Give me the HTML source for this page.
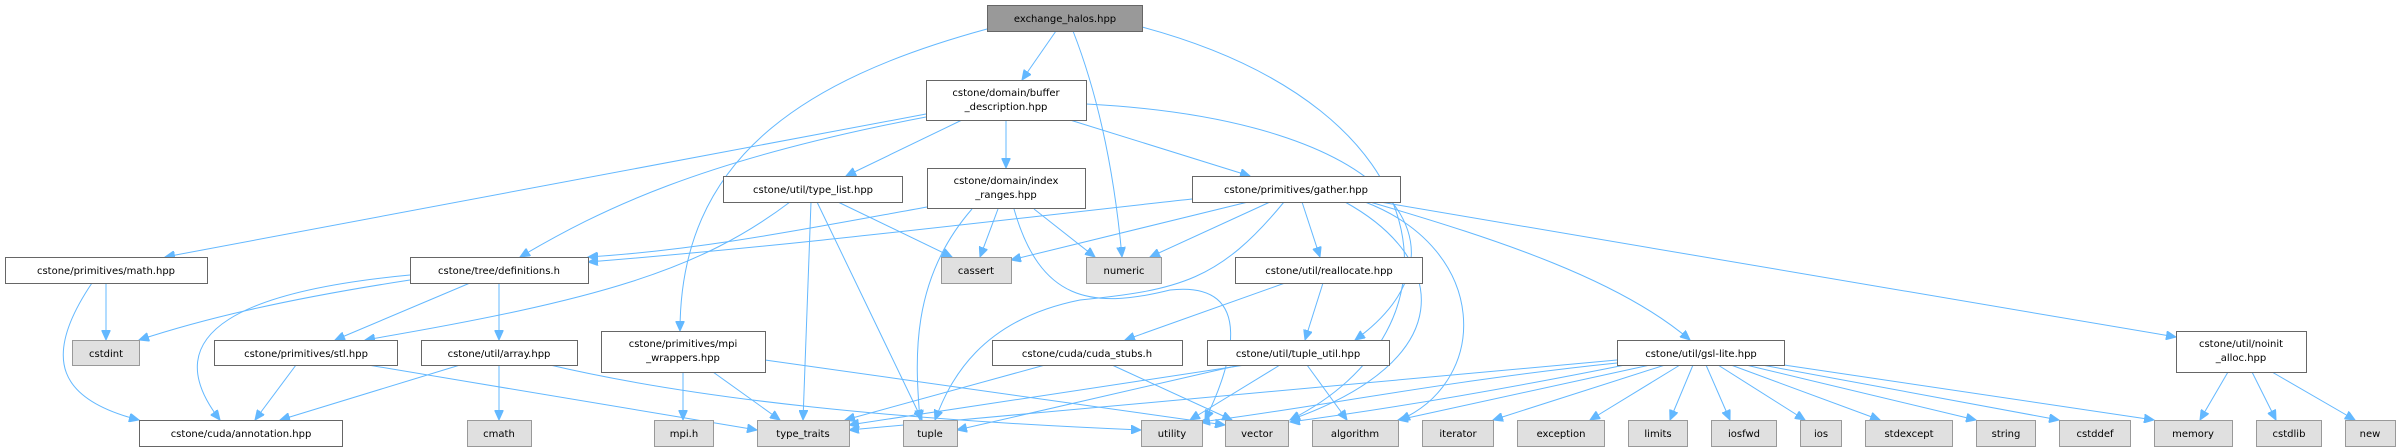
<!DOCTYPE html>
<html><head><meta charset="utf-8"><style>
html,body{margin:0;padding:0;background:#fff;}
svg{display:block;}
text{font-family:"DejaVu Sans","Liberation Sans",sans-serif;font-size:10px;fill:#000;text-anchor:middle;}
.n{fill:#fff;stroke:#666;stroke-width:1;}
.g{fill:#e0e0e0;stroke:#999;stroke-width:1;}
.m{fill:#999;stroke:#666;stroke-width:1;}
path{fill:none;stroke:#63b8ff;stroke-width:1;}
</style></head><body>
<svg width="2401" height="447" viewBox="0 0 2401 447" xmlns="http://www.w3.org/2000/svg">
<defs><marker id="a" markerUnits="userSpaceOnUse" markerWidth="11" markerHeight="9" refX="10" refY="4.5" orient="auto"><polygon points="0,0 10,4.5 0,9" fill="#63b8ff" stroke="#63b8ff"/></marker></defs>
<g marker-end="url(#a)">
<path d="M1056,31 L1022,80"/>
<path d="M1073,31 C1100,100 1115,180 1122,257"/>
<path d="M987,29 C800,80 680,160 680,331"/>
<path d="M1142,27 C1450,110 1470,330 1290,420"/>
<path d="M926,114 L165,257"/>
<path d="M926,117 C700,160 600,210 520,257"/>
<path d="M962,120 L846,176"/>
<path d="M1006,120 L1006,168"/>
<path d="M1070,120 L1250,176"/>
<path d="M1086,104 C1400,120 1480,250 1355,340"/>
<path d="M790,202 C700,270 600,300 365,340"/>
<path d="M838,202 L952,257"/>
<path d="M817,202 L922,420"/>
<path d="M811,202 L803,420"/>
<path d="M927,207 C800,230 700,250 588,257"/>
<path d="M998,209 L980,257"/>
<path d="M1034,209 L1095,257"/>
<path d="M972,209 C910,280 915,360 920,420"/>
<path d="M1014,209 C1040,300 1090,310 1170,290 C1260,280 1230,370 1205,420"/>
<path d="M1192,199 C1000,220 800,245 588,262"/>
<path d="M1248,202 L1011,260"/>
<path d="M1270,202 L1150,257"/>
<path d="M1284,202 C1220,280 1180,290 1080,300 C980,320 950,380 935,420"/>
<path d="M1302,202 L1320,257"/>
<path d="M1345,202 C1450,260 1460,360 1290,420"/>
<path d="M1365,202 C1490,250 1490,380 1400,420"/>
<path d="M1370,202 C1500,240 1620,280 1690,340"/>
<path d="M1380,202 L2176,337"/>
<path d="M1285,283 L1125,340"/>
<path d="M1323,283 L1305,340"/>
<path d="M1045,365 L845,420"/>
<path d="M1112,365 L1232,420"/>
<path d="M1245,365 L849,425"/>
<path d="M1240,365 L957,430"/>
<path d="M1280,365 L1190,420"/>
<path d="M1307,365 L1347,420"/>
<path d="M410,280 C280,300 200,320 139,340"/>
<path d="M410,275 C250,290 150,330 220,420"/>
<path d="M470,283 L335,340"/>
<path d="M499,283 L499,340"/>
<path d="M106,283 L106,340"/>
<path d="M92,283 C40,360 60,400 139,420"/>
<path d="M296,365 L255,420"/>
<path d="M368,365 L757,430"/>
<path d="M460,365 L280,420"/>
<path d="M499,365 L499,420"/>
<path d="M550,365 C700,400 900,420 1141,430"/>
<path d="M683,372 L683,420"/>
<path d="M713,372 L780,420"/>
<path d="M765,360 L1225,425"/>
<path d="M1617,360 L849,430"/>
<path d="M1617,363 C1450,380 1300,410 1200,422"/>
<path d="M1625,365 C1500,390 1380,410 1290,422"/>
<path d="M1650,365 L1398,420"/>
<path d="M1665,365 L1493,420"/>
<path d="M1680,365 L1590,420"/>
<path d="M1693,365 L1670,420"/>
<path d="M1706,365 L1730,420"/>
<path d="M1718,365 L1805,420"/>
<path d="M1731,365 L1880,420"/>
<path d="M1746,365 L1976,420"/>
<path d="M1762,365 L2059,420"/>
<path d="M1784,365 L2154,420"/>
<path d="M2228,372 L2200,420"/>
<path d="M2252,372 L2276,420"/>
<path d="M2272,372 L2355,420"/>
</g>
<rect class="m" x="987.5" y="5.5" width="155" height="26"/><text x="1065" y="22">exchange_halos.hpp</text>
<rect class="n" x="926.5" y="80.5" width="160" height="40"/><text x="1006" y="96">cstone/domain/buffer</text><text x="1006" y="110">_description.hpp</text>
<rect class="n" x="723.5" y="176.5" width="179" height="26"/><text x="813" y="193">cstone/util/type_list.hpp</text>
<rect class="n" x="927.5" y="168.5" width="158" height="40"/><text x="1006" y="184">cstone/domain/index</text><text x="1006" y="198">_ranges.hpp</text>
<rect class="n" x="1192.5" y="176.5" width="208" height="26"/><text x="1296" y="193">cstone/primitives/gather.hpp</text>
<rect class="n" x="5.5" y="257.5" width="202" height="26"/><text x="106" y="274">cstone/primitives/math.hpp</text>
<rect class="n" x="410.5" y="257.5" width="178" height="26"/><text x="499" y="274">cstone/tree/definitions.h</text>
<rect class="g" x="941.5" y="257.5" width="70" height="26"/><text x="976" y="274">cassert</text>
<rect class="g" x="1086.5" y="257.5" width="75" height="26"/><text x="1124" y="274">numeric</text>
<rect class="n" x="1235.5" y="257.5" width="187" height="26"/><text x="1329" y="274">cstone/util/reallocate.hpp</text>
<rect class="g" x="72.5" y="340.5" width="67" height="25"/><text x="106" y="357">cstdint</text>
<rect class="n" x="214.5" y="340.5" width="183" height="25"/><text x="306" y="357">cstone/primitives/stl.hpp</text>
<rect class="n" x="421.5" y="340.5" width="156" height="25"/><text x="499" y="357">cstone/util/array.hpp</text>
<rect class="n" x="601.5" y="331.5" width="164" height="41"/><text x="683" y="347">cstone/primitives/mpi</text><text x="683" y="361">_wrappers.hpp</text>
<rect class="n" x="992.5" y="340.5" width="190" height="25"/><text x="1087" y="357">cstone/cuda/cuda_stubs.h</text>
<rect class="n" x="1207.5" y="340.5" width="182" height="25"/><text x="1298" y="357">cstone/util/tuple_util.hpp</text>
<rect class="n" x="1617.5" y="340.5" width="167" height="25"/><text x="1701" y="357">cstone/util/gsl-lite.hpp</text>
<rect class="n" x="2176.5" y="331.5" width="130" height="41"/><text x="2241" y="347">cstone/util/noinit</text><text x="2241" y="361">_alloc.hpp</text>
<rect class="n" x="139.5" y="420.5" width="203" height="26"/><text x="241" y="437">cstone/cuda/annotation.hpp</text>
<rect class="g" x="467.5" y="420.5" width="64" height="26"/><text x="499" y="437">cmath</text>
<rect class="g" x="654.5" y="420.5" width="59" height="26"/><text x="684" y="437">mpi.h</text>
<rect class="g" x="757.5" y="420.5" width="92" height="26"/><text x="803" y="437">type_traits</text>
<rect class="g" x="903.5" y="420.5" width="54" height="26"/><text x="930" y="437">tuple</text>
<rect class="g" x="1141.5" y="420.5" width="61" height="26"/><text x="1172" y="437">utility</text>
<rect class="g" x="1225.5" y="420.5" width="63" height="26"/><text x="1257" y="437">vector</text>
<rect class="g" x="1312.5" y="420.5" width="86" height="26"/><text x="1355" y="437">algorithm</text>
<rect class="g" x="1422.5" y="420.5" width="71" height="26"/><text x="1458" y="437">iterator</text>
<rect class="g" x="1517.5" y="420.5" width="87" height="26"/><text x="1561" y="437">exception</text>
<rect class="g" x="1628.5" y="420.5" width="59" height="26"/><text x="1658" y="437">limits</text>
<rect class="g" x="1711.5" y="420.5" width="65" height="26"/><text x="1744" y="437">iosfwd</text>
<rect class="g" x="1800.5" y="420.5" width="41" height="26"/><text x="1821" y="437">ios</text>
<rect class="g" x="1865.5" y="420.5" width="87" height="26"/><text x="1909" y="437">stdexcept</text>
<rect class="g" x="1976.5" y="420.5" width="59" height="26"/><text x="2006" y="437">string</text>
<rect class="g" x="2059.5" y="420.5" width="71" height="26"/><text x="2095" y="437">cstddef</text>
<rect class="g" x="2154.5" y="420.5" width="78" height="26"/><text x="2193" y="437">memory</text>
<rect class="g" x="2256.5" y="420.5" width="65" height="26"/><text x="2289" y="437">cstdlib</text>
<rect class="g" x="2345.5" y="420.5" width="50" height="26"/><text x="2370" y="437">new</text>
</svg>
</body></html>
